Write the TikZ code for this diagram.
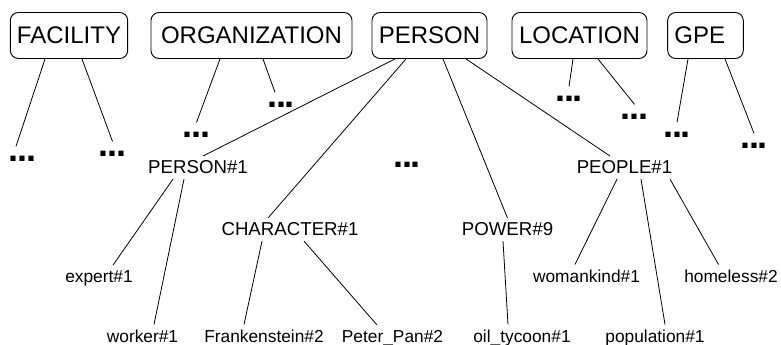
\documentclass[tikz,border=0pt]{standalone}
\usepackage{fontspec}
\setmainfont{Liberation Sans}
\newfontfamily\ellipsisfont[LetterSpace=-4]{Liberation Sans}
\usetikzlibrary{calc}

\tikzset{
  catbox/.style={draw, line width=0.7pt, rounded corners=6pt, minimum height=34.5pt, inner xsep=5pt, font=\fontsize{18}{20}\selectfont},
  sense/.style={inner sep=3.5pt, anchor=base, font=\fontsize{14}{16}\selectfont},
  word/.style={inner sep=3.5pt, anchor=base, font=\fontsize{13}{15}\selectfont},
  more/.style={inner xsep=1pt, inner ysep=7.5pt, anchor=base, font=\ellipsisfont\bfseries\fontsize{27}{27}\selectfont},
  edge/.style={line width=0.6pt}
}

\begin{document}
\begin{tikzpicture}[x=0.75pt, y=-0.75pt] % units are pixels of the sketch
\useasboundingbox (0,0) rectangle (781,345);
% Top level categories
\node[catbox, minimum width=85pt] (fac) at (69,35.5) {FACILITY};
\node[catbox, minimum width=150.75pt] (org) at (251.5,35.5) {ORGANIZATION};
\node[catbox, minimum width=86.25pt] (per) at (429.5,35.5) {PERSON};
\node[catbox, minimum width=101.25pt] (loc) at (579.5,35.5) {LOCATION};
\node[catbox, text width=46.7pt, align=left] (gpe) at (705.5,35.5) {GPE};
% Elided branches
\node[more] (fd1) at (22.5,162) {...};
\node[more] (fd2) at (112.5,157) {...};
\node[more] (od1) at (196.5,138) {...};
\node[more] (od2) at (281,108) {...};
\node[more] (md) at (407,168) {...};
\node[more] (ld1) at (569,102) {...};
\node[more] (ld2) at (634.5,120) {...};
\node[more] (gd1) at (677,138) {...};
\node[more] (gd2) at (754,149) {...};
% Senses under PERSON
\node[sense] (p1) at (198,174) {PERSON\#1};
\node[sense] (pp) at (624.5,174) {PEOPLE\#1};
\node[sense] (ch) at (290,236) {CHARACTER\#1};
\node[sense] (pw) at (507.5,236) {POWER\#9};
% Leaf words
\node[word] (ex) at (99,282) {expert\#1};
\node[word] (wk) at (586.5,282) {womankind\#1};
\node[word] (hl) at (731,282) {homeless\#2};
\node[word] (wo) at (142.5,342) {worker\#1};
\node[word] (fr) at (264,342) {Frankenstein\#2};
\node[word] (pt) at (392.5,342) {Peter\_Pan\#2};
\node[word] (oi) at (522,342) {oil\_tycoon\#1};
\node[word] (po) at (655,342) {population\#1};

% Edges from the categories
\draw[edge] ($(fac.south)+(-24,0)$) -- ($(fd1.north)+(-6.5,0)$);
\draw[edge] ($(fac.south)+(13,0)$) -- (fd2.north);
\draw[edge] ($(org.south)+(-31.5,0)$) -- (od1.north);
\draw[edge] ($(org.south)+(11.5,0)$) -- ($(od2.north)+(-6,0)$);
\draw[edge] ($(per.south)+(-34.5,0)$) -- ($(p1.north)+(5,0)$);
\draw[edge] ($(per.south)+(-23.5,0)$) -- ($(ch.north)+(-22,0)$);
\draw[edge] ($(per.south)+(13.5,0)$) -- (pw.north);
\draw[edge] ($(per.south)+(36.5,0)$) -- ($(pp.north)+(-14.5,0)$);
\draw[edge] ($(loc.south)+(-6.5,0)$) -- (ld1.north);
\draw[edge] ($(loc.south)+(18.5,0)$) -- (ld2.north);
\draw[edge] ($(gpe.south)+(-17.5,0)$) -- (gd1.north);
\draw[edge] ($(gpe.south)+(19.5,0)$) -- (gd2.north);
% Edges from the senses
\draw[edge] ($(p1.south)+(-25,0)$) -- ($(ex.north)+(14,0)$);
\draw[edge] ($(p1.south)+(-14,0)$) -- ($(wo.north)+(11.5,0)$);
\draw[edge] ($(ch.south)+(-28,0)$) -- ($(fr.north)+(-20,0)$);
\draw[edge] ($(ch.south)+(14,0)$) -- ($(pt.north)+(-15.5,0)$);
\draw[edge] ($(pw.south)+(-4.5,0)$) -- ($(oi.north)+(-14,0)$);
\draw[edge] ($(pp.south)+(-7.5,0)$) -- ($(wk.north)+(-11.5,0)$);
\draw[edge] ($(pp.south)+(16.5,0)$) -- ($(po.north)+(10,0)$);
\draw[edge] ($(pp.south)+(45.5,0)$) -- ($(hl.north)+(-12.5,0)$);
\end{tikzpicture}
\end{document}
